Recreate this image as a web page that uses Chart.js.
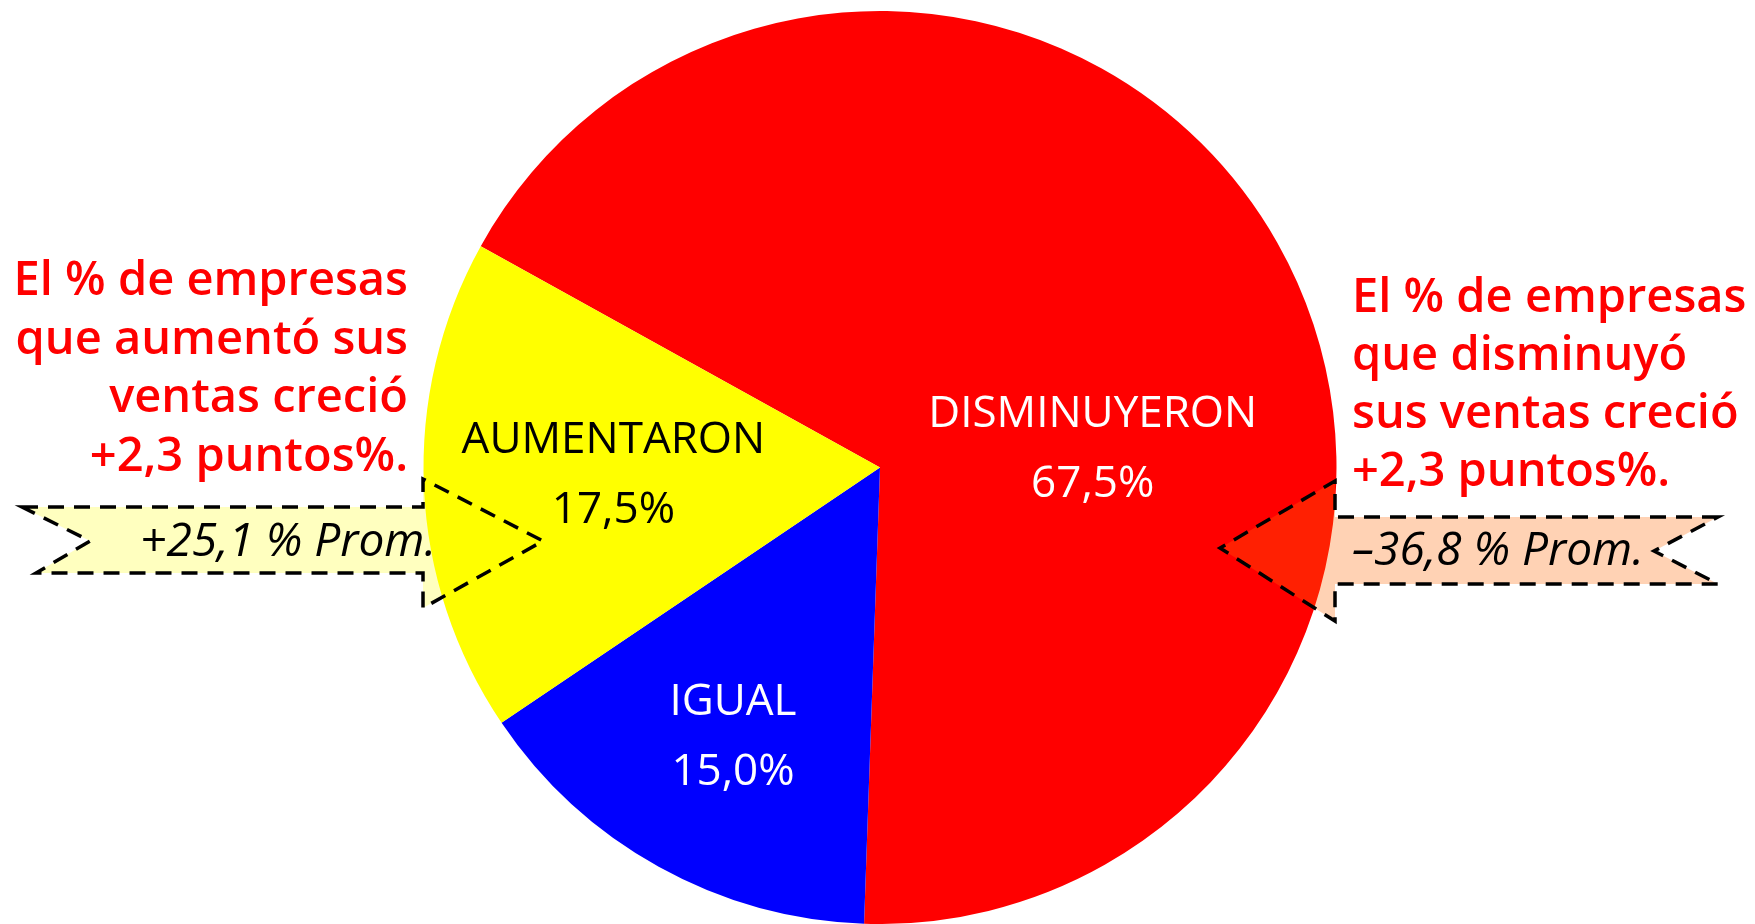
<!DOCTYPE html>
<html>
<head>
<meta charset="utf-8">
<script src="https://cdn.jsdelivr.net/npm/chart.js@4"></script>
<style>
  html, body { margin: 0; padding: 0; background: #fff; }
  #wrap { width: 1755px; height: 924px; position: relative; }
</style>
</head>
<body>
<div id="wrap"><canvas id="grafico" width="1755" height="924"></canvas></div>
<script>
// ─── Datos ───────────────────────────────────────────────────────────────────
const categorias = ['DISMINUYERON', 'IGUAL', 'AUMENTARON'];
const valores    = [67.5, 15.0, 17.5];
const colores    = ['#ff0000', '#0000ff', '#ffff00'];
const colorTexto = ['#ffffff', '#ffffff', '#000000'];

const notaIzq   = ['El % de empresas', 'que aumentó sus', 'ventas creció', '+2,3 puntos%.'];
const notaDer   = ['El % de empresas', 'que disminuyó', 'sus ventas creció', '+2,3 puntos%.'];
const promIzq   = '+25,1 % Prom.';
const promDer   = '–36,8 % Prom.';

const FUENTE = "'Open Sans', 'DejaVu Sans', sans-serif";

function fmt(v) {
  return v.toFixed(1).replace('.', ',') + '%';
}

// centro de etiqueta relativo al centro del pastel (en fracción del radio)
const posEtiqueta = [[0.466, -0.04], [-0.322, 0.592], [-0.584, 0.017]];

function flecha(ctx, pts, relleno) {
  ctx.save();
  ctx.beginPath();
  pts.forEach((p, i) => i ? ctx.lineTo(p[0], p[1]) : ctx.moveTo(p[0], p[1]));
  ctx.closePath();
  ctx.fillStyle = relleno;
  ctx.fill();
  ctx.setLineDash([16, 10]);
  ctx.lineWidth = 3.5;
  ctx.strokeStyle = '#000';
  ctx.stroke();
  ctx.restore();
}

const pluginTextos = {
  id: 'textos',
  afterDatasetsDraw(chart) {
    const ctx = chart.ctx;
    const arc = chart.getDatasetMeta(0).data[0];
    const cx = arc.x, cy = arc.y, r = arc.outerRadius;

    // etiquetas de las porciones
    ctx.save();
    ctx.textAlign = 'center';
    ctx.textBaseline = 'middle';
    ctx.font = `500 44px ${FUENTE}`;
    categorias.forEach((c, i) => {
      const x = cx + posEtiqueta[i][0] * r;
      const y = cy + posEtiqueta[i][1] * r;
      ctx.fillStyle = colorTexto[i];
      ctx.fillText(c, x, y - 35);
      ctx.fillText(fmt(valores[i]), x, y + 35);
    });
    ctx.restore();

    // flechas punteadas
    flecha(ctx, [[22, 507], [423, 507], [423, 479], [543, 541], [423, 608],
                 [423, 573], [36, 573], [90, 541]], 'rgba(255,255,0,0.25)');
    flecha(ctx, [[1718, 517], [1335, 517], [1335, 481], [1220, 548], [1335, 621],
                 [1335, 584], [1718, 584], [1654, 551]], 'rgba(255,107,5,0.3)');

    // textos de promedio
    ctx.save();
    ctx.font = `italic 500 46px ${FUENTE}`;
    ctx.fillStyle = '#000';
    ctx.textBaseline = 'middle';
    ctx.textAlign = 'right';
    ctx.fillText(promIzq, 436, 543);
    ctx.textAlign = 'left';
    ctx.fillText(promDer, 1352, 552);
    ctx.restore();

    // notas en rojo
    ctx.save();
    ctx.font = `600 47px ${FUENTE}`;
    ctx.fillStyle = '#ff0000';
    ctx.textBaseline = 'middle';
    ctx.textAlign = 'right';
    notaIzq.forEach((t, i) => ctx.fillText(t, 408, 282 + i * 58.5));
    ctx.textAlign = 'left';
    notaDer.forEach((t, i) => ctx.fillText(t, 1352, 299 + i * 58));
    ctx.restore();
  }
};

new Chart(document.getElementById('grafico'), {
  type: 'pie',
  data: {
    labels: categorias,
    datasets: [{
      data: valores,
      backgroundColor: colores,
      borderWidth: 0
    }]
  },
  options: {
    responsive: false,
    animation: false,
    rotation: -61,
    layout: { padding: { left: 423, right: 418, top: 11, bottom: 0 } },
    plugins: {
      legend: { display: false },
      tooltip: { enabled: false }
    }
  },
  plugins: [pluginTextos]
});
</script>
</body>
</html>
